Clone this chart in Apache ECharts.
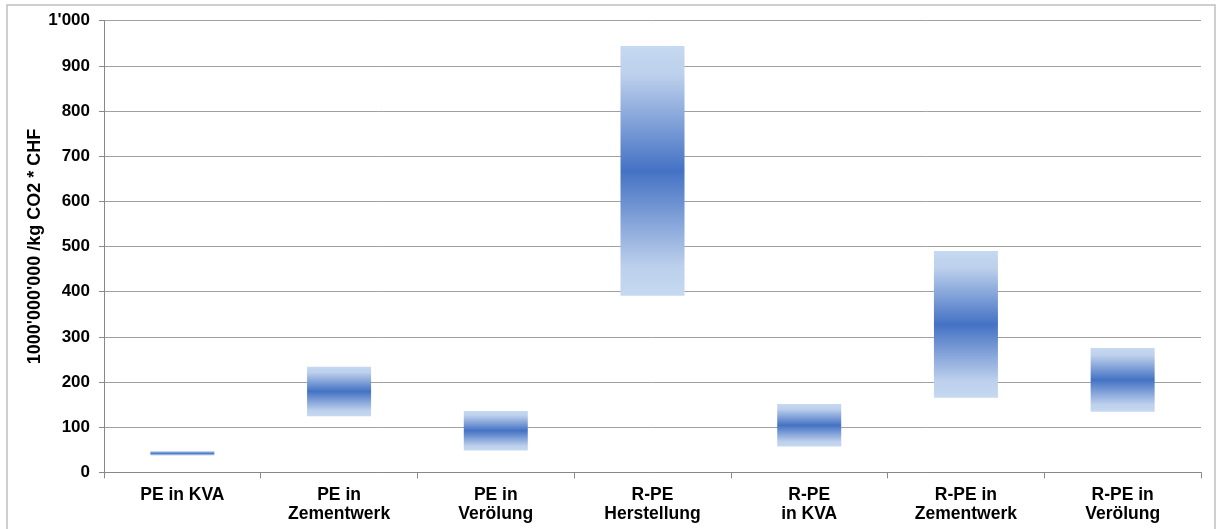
<!DOCTYPE html>
<html>
<head>
<meta charset="utf-8">
<script src="https://cdn.jsdelivr.net/npm/echarts@6/dist/echarts.min.js"></script>
<style>
html,body{margin:0;padding:0;background:#fff;}
#chart{width:1220px;height:529px;}
</style>
</head>
<body>
<div id="chart"></div>
<script>
const categories = ['PE in KVA', 'PE in\nZementwerk', 'PE in\nVerölung', 'R-PE\nHerstellung', 'R-PE\nin KVA', 'R-PE in\nZementwerk', 'R-PE in\nVerölung'];
const lowValues  = [37, 124, 48, 391, 57, 165, 134];
const highValues = [47, 234, 136, 944, 151, 490, 275];
const yAxisName = "1000'000'000 /kg CO2 * CHF";

const rangeValues = highValues.map((h, i) => h - lowValues[i]);
const FONT = '"Liberation Sans", Arial, sans-serif';

const chart = echarts.init(document.getElementById('chart'), null, {renderer: 'canvas'});
const grad = new echarts.graphic.LinearGradient(0, 0, 0, 1, [
  {offset: 0, color: '#C6D9F1'},
  {offset: 0.12, color: '#BCCFEC'},
  {offset: 0.5, color: '#4472C4'},
  {offset: 0.88, color: '#BCCFEC'},
  {offset: 1, color: '#C6D9F1'}
]);

chart.setOption({
  animation: false,
  backgroundColor: '#ffffff',
  graphic: [{
    type: 'rect', silent: true, z: -1,
    shape: {x: 7, y: 5, width: 1208, height: 600},
    style: {fill: 'none', stroke: '#C0C0C0', lineWidth: 1.5}
  }],
  grid: {left: 104, right: 19, top: 20.7, bottom: 56.7, containLabel: false},
  xAxis: {
    type: 'category',
    data: categories,
    axisLine: {lineStyle: {color: '#888888', width: 1}},
    axisTick: {show: true, length: 6, lineStyle: {color: '#888888'}},
    axisLabel: {
      color: '#000', fontFamily: FONT, fontWeight: 'bold', fontSize: 17.5,
      lineHeight: 19, margin: 13, interval: 0
    },
    splitLine: {show: false}
  },
  yAxis: {
    type: 'value',
    min: 0, max: 1000, interval: 100,
    name: yAxisName,
    nameLocation: 'middle',
    nameGap: 60,
    nameMoveOverlap: false,
    nameTextStyle: {color: '#000', fontFamily: FONT, fontWeight: 'bold', fontSize: 18},
    axisLine: {show: true, lineStyle: {color: '#888888', width: 1}},
    axisTick: {show: true, length: 5, lineStyle: {color: '#888888'}},
    axisLabel: {
      color: '#000', fontFamily: FONT, fontWeight: 'bold', fontSize: 17, margin: 14,
      formatter: v => v >= 1000 ? Math.floor(v / 1000) + "'" + String(v % 1000).padStart(3, '0') : String(v)
    },
    splitLine: {show: true, lineStyle: {color: '#A0A0A0', width: 1}}
  },
  series: [
    {
      type: 'bar', stack: 'range', data: lowValues, barWidth: 64,
      itemStyle: {color: 'rgba(0,0,0,0)'}, silent: true
    },
    {
      type: 'bar', stack: 'range', data: rangeValues, barWidth: 64,
      itemStyle: {color: grad}, silent: true
    }
  ]
});
</script>
</body>
</html>
